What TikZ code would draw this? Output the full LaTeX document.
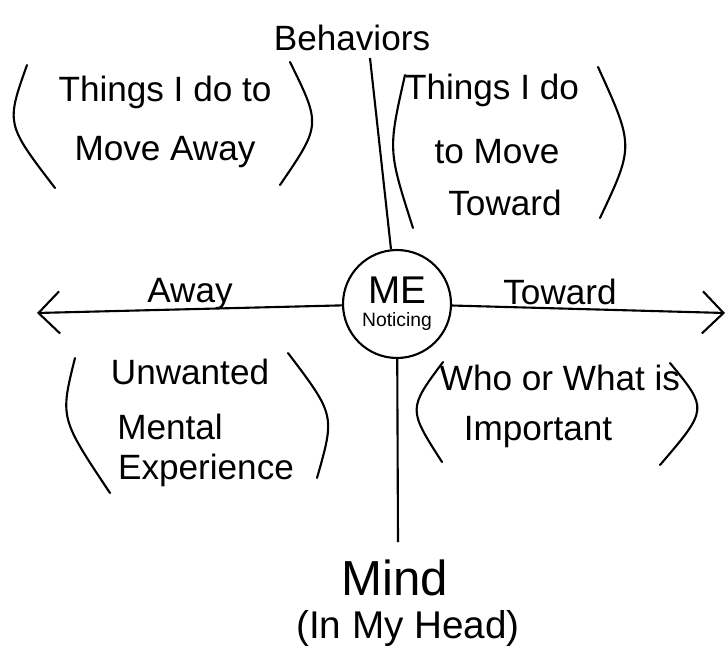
\documentclass[tikz,border=0pt]{standalone}
\usepackage{fontspec}
\setmainfont{Liberation Sans}
\usetikzlibrary{arrows.meta}
\newcommand{\hand}{\fontsize{20}{24}\selectfont}
\newcommand{\bigger}{\fontsize{28}{32}\selectfont}
\newcommand{\paren}[3]{\draw[line width=1.2pt, line cap=round] (#1) .. controls (#2) .. (#3)}
\tikzset{barb/.tip={Straight Barb[length=12pt, width=24pt, line width=1.2pt]}}

\begin{document}
\begin{tikzpicture}[x=0.02cm, y=-0.02cm, line width=1.2pt,
  txt/.style={font=\hand, inner sep=1pt}]
                    \useasboundingbox (0,0) rectangle (727,659);

                    \coordinate (w) at (37,313);
                    \coordinate (e) at (725,313);
                    \coordinate (n) at (370,58);
                    \coordinate (s) at (398,542);
                    \node[draw, circle, minimum size=2.16cm, inner sep=0pt, align=center] (me) at (397,304)
                      {{\fontsize{22}{24}\selectfont ME}\\[1pt]{\fontsize{11}{12}\selectfont Noticing}};

                    \draw[{barb}-] (w) -- (me);
                    \draw[-{barb}] (me) -- (e);
                    \draw (n) -- (me);
                    \draw (me) -- (s);

                    \node[txt] (beh) at (352,38) {Behaviors};
                    \node[txt] (away) at (190,294) {Away};
                    \node[txt] (tow) at (560,292) {Toward};
                    \node[font=\bigger] (mind) at (395,578) {Mind};
                    \node[font=\fontsize{22}{24}\selectfont] (head) at (408,628) {(In My Head)};

                    % behaviors, away
                    \node[txt] (tl1) at (165,92) {Things I do to};
                    \node[txt] (tl2) at (165,152) {Move Away};
                    \paren{27,65}{6,124}{55,188};
                    \paren{290,62}{321,125}{280,185};

                    % behaviors, toward
                    \node[txt] (tr1) at (492,90) {Things I do};
                    \node[txt] (tr2) at (497,152) {to Move};
                    \node[txt] (tr3) at (505,203) {Toward};
                    \paren{405,75}{388,150}{413,228};
                    \paren{598,67}{634,146}{600,218};

                    % mind, away
                    \node[txt] (bl1) at (190,372) {Unwanted};
                    \node[txt] (bl2) at (170,427) {Mental};
                    \node[txt] (bl3) at (206,470) {Experience};
                    \paren{75,358}{60,418}{110,493};
                    \paren{288,353}{335,415}{317,478};

                    % mind, toward
                    \node[txt] (br1) at (560,378) {Who or What is};
                    \node[txt] (br2) at (538,432) {Important};
                    \paren{443,362}{408,409}{442,462};
                    \paren{670,363}{708,409}{660,465};
                \end{tikzpicture}
\end{document}
